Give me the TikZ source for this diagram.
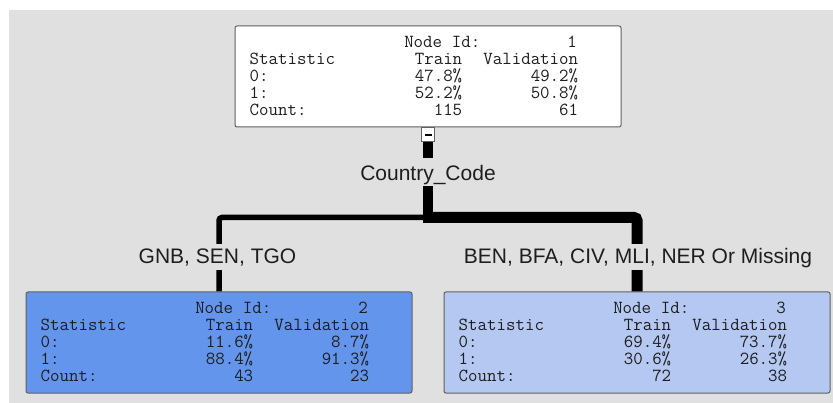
\documentclass[tikz,border=0pt]{standalone}
\usepackage{fontspec}
\setmainfont{Liberation Sans}
\usetikzlibrary{calc}

\definecolor{panelgray}{RGB}{224,224,224}
\definecolor{edgegray}{RGB}{96,96,96}
\definecolor{inkgray}{RGB}{30,30,30}
\definecolor{leafdark}{RGB}{100,149,237}
\definecolor{leaflight}{RGB}{180,200,242}

% one character cell of the monospaced statistics font
\newlength\cw
\setlength\cw{9.66pt}
\newcommand\statline[3]{\hbox{\makebox[17\cw][l]{#1}\makebox[5\cw][r]{#2}\makebox[12\cw][r]{#3}}}
\newcommand\idline[1]{\hbox{\hspace*{16\cw}Node\makebox[\cw]{}Id:\makebox[10\cw][r]{#1}}}
\newcommand\nodestats[7]{\vtop{\ttfamily\fontsize{18.4}{17}\selectfont
  \baselineskip=17pt\lineskiplimit=-100pt\lineskip=0pt
  \idline{#1}
  \statline{Statistic}{Train}{Validation}
  \statline{0:}{#2}{#3}
  \statline{1:}{#4}{#5}
  \statline{Count:}{#6}{#7}}}

\tikzset{
  treebox/.style={draw=edgegray, line width=1pt, rounded corners=2pt,
    minimum width=386pt, minimum height=101pt, inner sep=0pt},
  stats/.style={anchor=base west, inner sep=0pt, text=inkgray},
  branch/.style={draw=black, rounded corners=3pt},
  splitlabel/.style={fill=panelgray, text=inkgray, anchor=base,
    font=\fontsize{21}{24}\selectfont, inner xsep=2pt, inner ysep=1pt},
}

\begin{document}
\begin{tikzpicture}[x=1pt, y=-1pt]
  \useasboundingbox (0,0) rectangle (833,403);
  \fill[white] (0,0) rectangle (833,403);
  \fill[panelgray] (9,10) rectangle (833,403);

  % tree nodes
  \node[treebox, fill=white] (root) at (428,76.5) {};
  \node[treebox, fill=leafdark] (left) at (219,342.5) {};
  \node[treebox, fill=leaflight] (right) at (637,342.5) {};

  \node[stats] (roottext) at ($(root.north west)+(15,22)$)
    {\nodestats{1}{47.8\%}{49.2\%}{52.2\%}{50.8\%}{115}{61}};
  \node[stats] (lefttext) at ($(left.north west)+(15,22)$)
    {\nodestats{2}{11.6\%}{8.7\%}{88.4\%}{91.3\%}{43}{23}};
  \node[stats] (righttext) at ($(right.north west)+(15,22)$)
    {\nodestats{3}{69.4\%}{73.7\%}{30.6\%}{26.3\%}{72}{38}};

  % collapse toggle under the root
  \node[draw=edgegray, fill=white, line width=1pt, minimum width=13pt,
    minimum height=14pt, inner sep=0pt, anchor=north] (collapse) at (root.south) {};
  \draw[black, line width=1.2pt] ($(collapse.center)+(-3.5,0)$) -- ($(collapse.center)+(3.5,0)$);

  % split connectors
  \coordinate (split) at (428,217.5);
  \draw[black, line width=10pt] (collapse.south) -- ($(split)+(0,5.5)$);
  \draw[branch, line width=5.5pt] (split) -| (left.north);
  \draw[branch, line width=11pt] (split) -| (right.north);

  % split labels
  \node[splitlabel, text height=22pt, text depth=4pt] (splitvar) at (428,181) {Country\_Code};
  \node[splitlabel, text height=19pt, text depth=5pt] (leftrule) at (217.5,264) {GNB, SEN, TGO};
  \node[splitlabel, text height=19pt, text depth=5pt] (rightrule) at (638,264) {BEN, BFA, CIV, MLI, NER Or Missing};
\end{tikzpicture}
\end{document}
